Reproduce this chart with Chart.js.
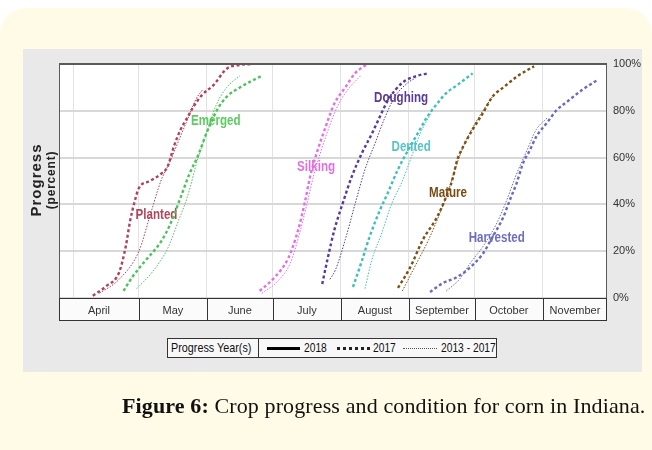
<!DOCTYPE html>
<html>
<head>
<meta charset="utf-8">
<script src="https://cdn.jsdelivr.net/npm/chart.js@4.4.0/dist/chart.umd.min.js"></script>
<style>
  body { margin: 0; background: #fff; width: 652px; height: 450px; overflow: hidden; position: relative; }
  .panel { position: absolute; left: 0; top: 8px; width: 652px; height: 470px; background: #fffbe7; border-radius: 26px; }
  .figure { position: absolute; left: 23px; top: 49px; width: 619px; height: 323px; background: #e9e9e9; }
  #chart { position: absolute; left: 0; top: 0; }
  .ytitle { position: absolute; transform: translate(-50%, -50%) rotate(-90deg); white-space: nowrap; font-family: 'Liberation Sans', Arial, sans-serif; font-weight: bold; color: #222; }
  .legend { position: absolute; left: 167px; top: 338px; width: 328px; height: 18px; border: 1px solid #333; background: #f8f8f8;
            font-family: 'Liberation Sans', Arial, sans-serif; font-size: 13.5px; color: #111; }
  .legend span, .legend i { position: absolute; }
  .legend span { top: 0; line-height: 18px; white-space: nowrap; transform: scaleX(0.76); transform-origin: left center; }
  .legend .head { left: 0; width: 90px; height: 18px; border-right: 1px solid #333; transform: none; }
  .legend .head b { position: absolute; left: 3px; top: 0; font-weight: normal; white-space: nowrap; transform: scaleX(0.8); transform-origin: left center; }
  .legend i { top: 8px; height: 0; }
  .caption { position: absolute; left: 122px; top: 393px; white-space: nowrap; font-family: 'Liberation Serif', 'Times New Roman', serif; font-size: 22px; letter-spacing: 0.12px; color: #111; }
</style>
</head>
<body>
<div class="panel"></div>
<div class="figure"></div>
<canvas id="chart" width="652" height="450"></canvas>
<div class="ytitle" style="left:35px; top:180px; font-size:15px; letter-spacing:1px;">Progress</div>
<div class="ytitle" style="left:51px; top:180px; font-size:12px; letter-spacing:0.8px;">(percent)</div>
<div class="legend">
  <span class="head"><b>Progress Year(s)</b></span>
  <i style="left:99px; width:33px; border-top:3px solid #000;"></i>
  <span style="left:136px;">2018</span>
  <i style="left:169px; width:33px; border-top:3px dotted #222;"></i>
  <span style="left:205px;">2017</span>
  <i style="left:235px; width:34px; top:9px; border-top:1px dotted #555;"></i>
  <span style="left:273px;">2013 - 2017</span>
</div>
<div class="caption"><b>Figure 6:</b> Crop progress and condition for corn in Indiana.</div>

<script>
  var sans = "'Liberation Sans', Arial, sans-serif";

  // x values are days after April 1
  var dayMin = -6.4;
  var dayMax = 243.2;
  var months = ['April', 'May', 'June', 'July', 'August', 'September', 'October', 'November'];
  var monthStarts = [0, 30, 61, 91, 122, 153, 183, 214];
  var yTicks = [0, 20, 40, 60, 80, 100];

  var stages = ['Planted', 'Emerged', 'Silking', 'Doughing', 'Dented', 'Mature', 'Harvested'];
  var stageColors = ['#b0405c', '#4cc35a', '#e46ee4', '#583a9c', '#3cc0bc', '#7c5016', '#6a6ac0'];
  var labelColors = ['#b0485a', '#5ccc60', '#e070e0', '#5a3a98', '#58c4c4', '#7a4c12', '#6e6ec0'];
  var labelDays = [38, 65, 110.7, 149.4, 154, 170.8, 193];
  var labelPcts = [35.5, 75.6, 56, 85.5, 64.5, 45, 25.6];

  // [day, percent] pairs, 2017 season
  var planted2017 = [[9, 1], [15, 5], [21, 11], [24, 22], [26, 33], [28, 41], [30, 47], [35, 50], [40, 53], [43, 56], [46, 65], [49, 72], [52, 77], [55, 82], [59, 87], [64, 91], [70, 98], [76, 99.6], [82, 100]];
  var emerged2017 = [[23, 3], [27, 9], [33, 16], [40, 24], [44, 31], [49, 43], [53, 53], [57, 61], [61, 71], [66, 81], [70, 86], [76, 90], [86, 95]];
  var silking2017 = [[85, 3], [92, 9], [98, 17], [102.5, 29], [105.6, 41], [108, 52], [111, 62], [115, 73], [119, 83], [124, 90], [128.4, 96], [134, 100]];
  var doughing2017 = [[113.5, 6], [116, 17], [119, 29], [123, 41], [127, 52], [131.6, 62], [136, 70], [140, 78], [143.5, 84.6], [150, 92], [157, 95], [161.6, 96]];
  var dented2017 = [[127.5, 4.7], [131.6, 16], [135, 26], [139.8, 37.6], [143.4, 45], [148, 55], [152.5, 63], [158, 72], [161, 77], [165.8, 83], [170, 87.6], [175, 91], [182, 96]];
  var mature2017 = [[148, 4.3], [153.5, 13], [159.4, 25], [165.8, 34.6], [169.4, 42], [172.6, 50], [175, 59], [177.6, 64.5], [182, 72], [186.7, 79], [191, 86], [196, 90], [202, 94.5], [208, 98], [210, 99]];
  var harvested2017 = [[162.6, 2.6], [168.5, 6.4], [175, 9], [180.8, 13], [186.7, 19], [191, 26], [196, 34.6], [199, 42], [202, 49], [205, 57.7], [208, 63], [211, 69], [216, 75], [220, 80], [226, 84.6], [232, 89], [238.6, 93]];

  // [day, percent] pairs, 2013 - 2017 average
  var plantedAvg = [[12, 2], [21, 8], [30, 20], [35, 35], [40, 50], [44, 58], [48, 67], [52, 76], [56, 85], [59, 89]];
  var emergedAvg = [[29, 4], [36, 11], [43, 21], [48, 33], [52, 43], [57, 60], [61, 71], [65, 82], [70, 90], [76, 95]];
  var silkingAvg = [[86, 2], [93, 7], [99, 15], [103, 27], [106.5, 40], [109.5, 52], [113, 63], [117, 74], [121, 83], [126, 90], [131, 95]];
  var doughingAvg = [[117, 8], [119.5, 12], [124, 25], [128.4, 40], [133, 55], [137.5, 66], [142, 77], [146.6, 86], [152.5, 92], [156, 94]];
  var dentedAvg = [[133, 4], [136, 16], [140.7, 28], [145, 40], [150, 50], [154, 60], [158, 70], [163, 79]];
  var matureAvg = [[150, 3], [156, 14], [162, 25], [167, 36], [171, 46], [174, 55], [177, 63], [181, 71], [186, 79], [191, 86]];
  var harvestedAvg = [[170, 3], [176, 8], [181, 15], [186.7, 22], [193, 32], [197.6, 42], [202, 53], [206.7, 63], [211, 72], [216, 77]];

  var series2017 = [planted2017, emerged2017, silking2017, doughing2017, dented2017, mature2017, harvested2017];
  var seriesAvg = [plantedAvg, emergedAvg, silkingAvg, doughingAvg, dentedAvg, matureAvg, harvestedAvg];

  // month label sits in the middle of each cell of the month bar
  var bounds = [dayMin].concat(monthStarts.slice(1), [dayMax]);
  var monthMids = months.map(function (m, i) { return (bounds[i] + bounds[i + 1]) / 2; });

  function toPoints(pairs) {
    return pairs.map(function (p) { return { x: p[0], y: p[1] }; });
  }

  var datasets = [];
  for (var i = 0; i < stages.length; i++) {
    datasets.push({
      label: stages[i] + ' 2013 - 2017',
      data: toPoints(seriesAvg[i]),
      borderColor: stageColors[i],
      borderWidth: 1,
      borderDash: [1.5, 1.5]
    });
  }
  for (var j = 0; j < stages.length; j++) {
    datasets.push({
      label: stages[j] + ' 2017',
      data: toPoints(series2017[j]),
      borderColor: stageColors[j],
      borderWidth: 2.4,
      borderDash: [3, 2.5]
    });
  }

  var figurePlugin = {
    id: 'figure',
    beforeDraw: function (chart) {
      var ctx = chart.ctx, a = chart.chartArea;
      ctx.save();
      ctx.fillStyle = '#ffffff';
      ctx.fillRect(a.left, a.top, a.right - a.left, a.bottom - a.top);
      ctx.fillStyle = '#fbfbfb';
      ctx.fillRect(a.left, a.bottom, a.right - a.left, 22);
      ctx.restore();
    },
    beforeDatasetsDraw: function (chart) {
      var ctx = chart.ctx, xs = chart.scales.x, ys = chart.scales.y;
      ctx.font = 'bold 14.5px ' + sans;
      ctx.textAlign = 'center';
      ctx.textBaseline = 'middle';
      for (var k = 0; k < stages.length; k++) {
        // condensed look: squeeze the text horizontally
        ctx.save();
        ctx.translate(xs.getPixelForValue(labelDays[k]), ys.getPixelForValue(labelPcts[k]));
        ctx.scale(0.8, 1);
        ctx.fillStyle = labelColors[k];
        ctx.fillText(stages[k], 0, 0);
        ctx.restore();
      }
    },
    afterDraw: function (chart) {
      var ctx = chart.ctx, a = chart.chartArea, xs = chart.scales.x;
      ctx.save();
      // plot frame
      ctx.strokeStyle = '#5a5a5a';
      ctx.lineWidth = 1;
      ctx.strokeRect(a.left + 0.5, a.top + 0.5, a.right - a.left - 1, a.bottom - a.top);
      ctx.lineWidth = 2;
      ctx.beginPath();
      ctx.moveTo(a.left, a.top);
      ctx.lineTo(a.right, a.top);
      ctx.stroke();
      // month bar
      ctx.strokeStyle = '#333';
      ctx.lineWidth = 1;
      ctx.strokeRect(a.left + 0.5, a.bottom + 0.5, a.right - a.left - 1, 22);
      for (var m = 1; m < monthStarts.length; m++) {
        var px = Math.round(xs.getPixelForValue(monthStarts[m])) + 0.5;
        ctx.beginPath();
        ctx.moveTo(px, a.bottom);
        ctx.lineTo(px, a.bottom + 22);
        ctx.stroke();
      }
      ctx.restore();
    }
  };

  new Chart(document.getElementById('chart').getContext('2d'), {
    type: 'line',
    data: { datasets: datasets },
    plugins: [figurePlugin],
    options: {
      responsive: false,
      animation: false,
      devicePixelRatio: 1,
      layout: { padding: { left: 59, top: 64, right: 10, bottom: 129 } },
      elements: { point: { radius: 0 }, line: { cubicInterpolationMode: 'monotone', fill: false } },
      plugins: { legend: { display: false }, tooltip: { enabled: false } },
      scales: {
        x: {
          type: 'linear',
          min: dayMin,
          max: dayMax,
          afterBuildTicks: function (scale) {
            scale.ticks = monthStarts.concat(monthMids).map(function (v) { return { value: v }; });
          },
          afterFit: function (scale) { scale.height = 23; },
          border: { display: false },
          grid: {
            drawTicks: false,
            lineWidth: 1,
            color: function (c) {
              return c.tick && monthStarts.indexOf(c.tick.value) >= 0 ? '#e2e2e2' : 'rgba(0,0,0,0)';
            }
          },
          ticks: {
            autoSkip: false,
            maxRotation: 0,
            padding: 6,
            color: '#333',
            font: { family: sans, size: 11 },
            callback: function (v) {
              var idx = monthMids.indexOf(v);
              return idx >= 0 ? months[idx] : '';
            }
          }
        },
        y: {
          position: 'right',
          min: 0,
          max: 100,
          afterBuildTicks: function (scale) {
            scale.ticks = yTicks.map(function (v) { return { value: v }; });
          },
          afterFit: function (scale) { scale.width = 35; },
          border: { display: false },
          grid: { drawTicks: false, color: '#d8d8d8', lineWidth: 2 },
          ticks: {
            padding: 6,
            color: '#333',
            font: { family: sans, size: 11 },
            callback: function (v) { return v + '%'; }
          }
        }
      }
    }
  });
</script>
</body>
</html>
